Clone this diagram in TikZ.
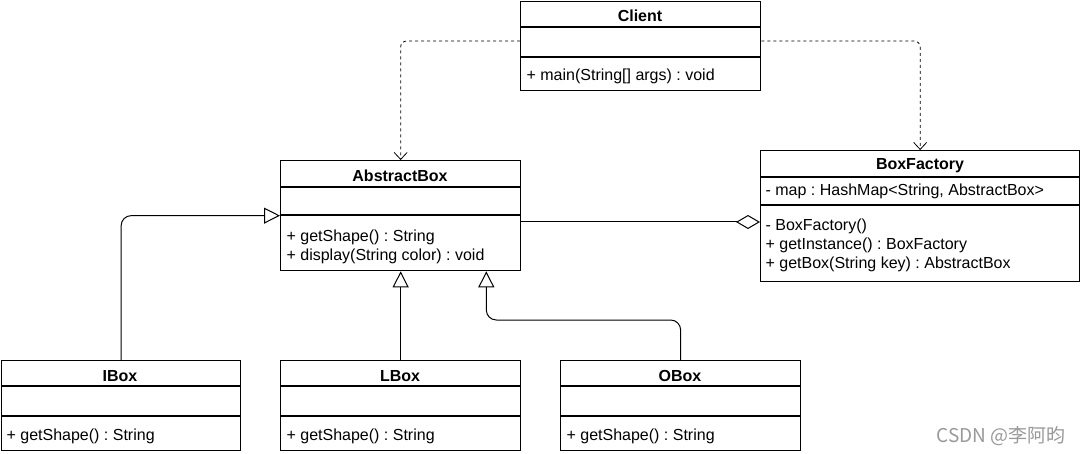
\documentclass[tikz,border=0pt]{standalone}
\usepackage{fontspec}
\setmainfont{Liberation Sans}
\newfontfamily\cjkfont{Noto Sans CJK SC}
\usetikzlibrary{arrows.meta}
\newcommand\sz{\fontsize{16}{19}\selectfont}
\frenchspacing
\begin{document}
\frenchspacing
\begin{tikzpicture}[x=1pt,y=-1pt, line width=1.2pt, font=\sz\frenchspacing,
 box/.style={draw, line width=1.3pt, inner sep=0pt, anchor=north west},
 ttl/.style={font=\sz\bfseries, inner sep=0pt},
 mem/.style={anchor=west, inner sep=0pt},
 dep/.style={line width=0.8pt, dash pattern=on 3pt off 3pt, -{Straight Barb[length=7pt,width=13pt]}, rounded corners=6pt},
 gen/.style={line width=1pt, -{Triangle[open,length=16pt,width=16pt]}, rounded corners=10pt},
 agg/.style={line width=1pt, -{Diamond[open,length=24pt,width=14pt]}},
]
\useasboundingbox (0,0) rectangle (1081,454);

% Client
\node[box, minimum width=240pt, minimum height=89pt] (client) at (520,1) {};
\draw (520,27) -- (760,27);
\draw (520,57) -- (760,57);
\node[ttl] (clientT) at (640,16) {Client};
\node[mem] (clientM1) at (526,76) {+ main(String[] args) : void};

% AbstractBox
\node[box, minimum width=240pt, minimum height=110pt] (abox) at (280,160) {};
\draw (280,187) -- (520,187);
\draw (280,215) -- (520,215);
\node[ttl] (aboxT) at (400,176) {AbstractBox};
\node[mem] (aboxM1) at (286,237) {+ getShape() : String};
\node[mem] (aboxM2) at (286,256) {+ display(String color) : void};

% BoxFactory
\node[box, minimum width=319pt, minimum height=131pt] (bf) at (760,150) {};
\draw (760,177) -- (1079,177);
\draw (760,205) -- (1079,205);
\node[ttl] (bfT) at (920,166) {BoxFactory};
\node[mem] (bfA1) at (765,191) {- map : HashMap<String, AbstractBox>};
\node[mem] (bfM1) at (765,226) {- BoxFactory()};
\node[mem] (bfM2) at (765,245) {+ getInstance() : BoxFactory};
\node[mem] (bfM3) at (765,264) {+ getBox(String key) : AbstractBox};

% IBox
\node[box, minimum width=239pt, minimum height=90pt] (ibox) at (1,360) {};
\draw (1,386) -- (240,386);
\draw (1,416) -- (240,416);
\node[ttl] (iboxT) at (120,376) {IBox};
\node[mem] (iboxM1) at (6,436) {+ getShape() : String};

% LBox
\node[box, minimum width=240pt, minimum height=90pt] (lbox) at (280,360) {};
\draw (280,386) -- (520,386);
\draw (280,416) -- (520,416);
\node[ttl] (lboxT) at (400,376) {LBox};
\node[mem] (lboxM1) at (286,436) {+ getShape() : String};

% OBox
\node[box, minimum width=240pt, minimum height=90pt] (obox) at (560,360) {};
\draw (560,386) -- (800,386);
\draw (560,416) -- (800,416);
\node[ttl] (oboxT) at (680,376) {OBox};
\node[mem] (oboxM1) at (566,436) {+ getShape() : String};

% connectors
\draw[dep] (client.north west) ++(0,40) -| (abox.north);
\draw[dep] (client.north east) ++(0,40) -| (bf.north);
\draw[gen] (ibox.north) |- (abox.west);
\draw[gen] (lbox.north) -- (lbox.north |- abox.south);
\draw[gen] (obox.north) -- ++(0,-40) -| ([xshift=-35pt]abox.south east);
\coordinate (aggy) at (0,222);
\draw[agg] (abox.east |- aggy) -- (bf.west |- aggy);

% watermark
\node[text=black!40, font=\cjkfont\fontsize{19}{22}\selectfont, inner sep=0pt] (wm) at (1001,436) {CSDN @李阿昀};
\end{tikzpicture}
\end{document}
